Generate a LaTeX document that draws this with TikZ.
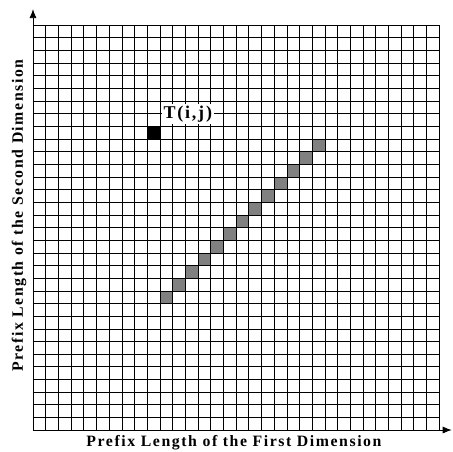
\documentclass[tikz,border=0pt]{standalone}
\usepackage{fontspec}
\setmainfont{Liberation Serif}
\newfontfamily\lblfont[LetterSpace=10]{Liberation Serif}
\usetikzlibrary{arrows.meta}

\begin{document}
\begin{tikzpicture}[x=12.69pt, y=12.66pt,
    cellline/.style={black, line width=0.5pt},
    axisline/.style={line width=0.8pt, -{Latex[length=9pt,width=7pt]}},
    axislabel/.style={font=\lblfont\bfseries\fontsize{15.8}{18}\selectfont},
    celllabel/.style={font=\lblfont\bfseries\fontsize{18}{21}\selectfont, fill=white, inner sep=1.5pt}]
    \useasboundingbox (-2.6,-1.66) rectangle (33.1,33.97);

    % Corners of the axes
    \coordinate (O) at (0,0);
    \coordinate (X) at (33,0); % end of first dimension
    \coordinate (Y) at (0,33.25); % end of second dimension

    % Cells on the diagonal
    \foreach \k in {10,...,22}
        \fill[gray] (\k,\k) rectangle ++(1,1);

    % The cell T(i,j)
    \fill[black] (9,23) rectangle ++(1,1);

    % Grid of 32 x 32 cells
    \draw[cellline, xstep=12.69pt, ystep=12.66pt] (0,0) grid (32,32);

    % Axes
    \draw[axisline] (O) -- (X);
    \draw[axisline] (O) -- (Y);

    % Labels
    \node[celllabel] (tij) at (12.2,24.96) {T(i,j)};
    \node[axislabel] (xlabel) at (15.84,-1.03) {Prefix Length of the First Dimension};
    \node[axislabel, rotate=90] (ylabel) at (-1.1,16.94) {Prefix Length of the Second Dimension};
\end{tikzpicture}
\end{document}
